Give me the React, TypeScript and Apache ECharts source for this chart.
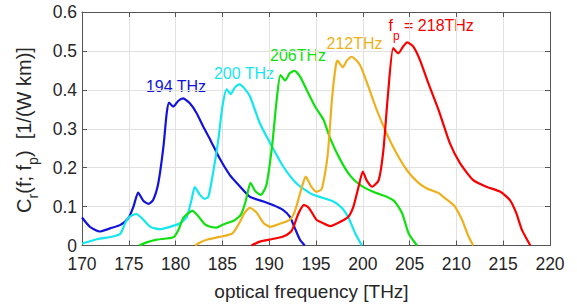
import React, { useEffect, useRef } from "react";
import * as echarts from "echarts";

// optical frequency [THz] vs C_r(f; f_p) [1/(W km)] for each pump frequency
const pump194: [number, number][] = [
  [170.0, 0.072], [170.85, 0.048], [171.9, 0.036], [173.0, 0.044], [174.1, 0.053],
  [174.95, 0.07], [175.5, 0.1], [176.0, 0.136], [176.55, 0.115], [177.1, 0.107],
  [177.6, 0.117], [178.15, 0.16], [178.7, 0.254], [179.05, 0.34], [179.3, 0.367],
  [179.75, 0.357], [180.3, 0.372], [180.8, 0.378], [181.5, 0.366], [182.25, 0.34],
  [182.96, 0.305], [183.7, 0.272], [184.7, 0.224], [185.8, 0.181], [186.9, 0.151],
  [187.95, 0.125], [189.4, 0.113], [190.4, 0.104], [191.5, 0.091], [192.2, 0.074],
  [192.75, 0.044], [193.3, 0.014], [193.8, 0.0],
];
const pump200: [number, number][] = [
  [170.0, 0.005], [171.6, 0.016], [173.3, 0.023], [174.1, 0.03], [174.6, 0.057],
  [175.1, 0.074], [175.8, 0.081], [176.4, 0.07], [177.3, 0.048], [178.3, 0.042],
  [179.4, 0.048], [180.5, 0.057], [181.2, 0.074], [181.7, 0.117], [182.05, 0.15],
  [182.6, 0.13], [183.1, 0.12], [183.5, 0.125], [184.0, 0.186], [184.56, 0.271],
  [185.0, 0.357], [185.46, 0.401], [185.9, 0.389], [186.3, 0.405], [186.8, 0.414],
  [187.3, 0.405], [187.95, 0.383], [189.0, 0.314], [190.1, 0.263], [191.5, 0.203],
  [192.9, 0.16], [194.4, 0.134], [195.1, 0.127], [196.85, 0.113], [197.8, 0.096],
  [198.5, 0.07], [199.2, 0.031], [199.9, 0.0],
];
const pump206: [number, number][] = [
  [176.1, 0.0], [176.9, 0.008], [178.0, 0.015], [179.75, 0.021], [180.3, 0.04],
  [180.8, 0.07], [181.4, 0.084], [181.8, 0.089], [182.4, 0.076], [183.1, 0.055],
  [183.7, 0.048], [184.3, 0.046], [185.1, 0.054], [186.3, 0.065], [187.0, 0.08],
  [187.5, 0.115], [188.0, 0.161], [188.5, 0.14], [189.1, 0.13], [189.7, 0.155],
  [190.3, 0.254], [190.8, 0.374], [191.2, 0.438], [191.7, 0.424], [192.2, 0.443],
  [192.7, 0.449], [193.3, 0.434], [194.0, 0.4], [194.9, 0.357], [195.8, 0.323],
  [196.5, 0.276], [197.6, 0.22], [198.6, 0.181], [199.7, 0.156], [201.1, 0.138],
  [202.55, 0.125], [203.4, 0.113], [204.2, 0.083], [204.9, 0.031], [205.8, 0.0],
];
const pump212: [number, number][] = [
  [182.1, 0.0], [182.6, 0.008], [183.5, 0.016], [184.7, 0.022], [186.0, 0.03],
  [186.5, 0.045], [186.9, 0.062], [187.4, 0.085], [187.95, 0.097], [188.4, 0.09],
  [188.7, 0.083], [189.4, 0.058], [190.1, 0.048], [191.15, 0.056], [192.2, 0.066],
  [192.6, 0.08], [192.9, 0.1], [193.5, 0.151], [193.9, 0.177], [194.5, 0.151],
  [195.05, 0.138], [195.6, 0.145], [196.0, 0.19], [196.3, 0.245], [196.7, 0.374],
  [197.1, 0.46], [197.3, 0.475], [197.85, 0.458], [198.3, 0.475], [198.8, 0.485],
  [199.7, 0.464], [200.6, 0.408], [201.5, 0.348], [202.55, 0.288], [203.6, 0.237],
  [204.7, 0.194], [205.8, 0.164], [206.8, 0.147], [208.1, 0.135], [208.6, 0.125],
  [209.4, 0.11], [209.85, 0.1], [210.6, 0.066], [211.3, 0.023], [211.8, 0.0],
];
const pump218: [number, number][] = [
  [188.1, 0.0], [189.0, 0.01], [190.0, 0.015], [191.5, 0.023], [192.3, 0.035],
  [192.6, 0.048], [193.0, 0.075], [193.3, 0.091], [193.7, 0.104], [194.1, 0.1],
  [194.4, 0.091], [195.05, 0.066], [195.7, 0.058], [196.5, 0.05], [197.6, 0.061],
  [198.45, 0.074], [199.0, 0.1], [199.55, 0.151], [200.0, 0.19], [200.4, 0.168],
  [201.0, 0.151], [201.7, 0.168], [202.2, 0.245], [202.7, 0.391], [203.25, 0.507],
  [203.8, 0.494], [204.3, 0.511], [204.75, 0.522], [205.4, 0.511], [206.1, 0.477],
  [207.0, 0.417], [208.1, 0.348], [209.3, 0.263], [210.4, 0.211], [211.8, 0.168],
  [213.2, 0.151], [214.7, 0.138], [215.7, 0.117], [216.4, 0.083], [217.0, 0.04],
  [217.9, 0.0],
];

const seriesNames = ["194 THz", "200 THz", "206THz", "212THz", "218THz"];
const seriesData = [pump194, pump200, pump206, pump212, pump218];
const seriesColors = ["#1212dc", "#14e6ee", "#10e010", "#edb120", "#f80000"];

const xMin = 170;
const xMax = 220;
const xStep = 5;
const yMin = 0;
const yMax = 0.6;
const yStep = 0.1;

const xTitle = "optical frequency [THz]";

const FONT = '"Liberation Sans", Arial, Helvetica, sans-serif';
const AXIS = "#555555";
const GRID = "#e1e1e1";
const TXT = "#262626";

export default function App() {
  const ref = useRef<HTMLDivElement>(null);

  useEffect(() => {
    if (!ref.current) return;
    const chart = echarts.init(ref.current, undefined, { renderer: "svg" });

    const axisCommon = {
      type: "value" as const,
      axisLine: { show: true, onZero: false, lineStyle: { color: AXIS, width: 1 } },
      axisTick: { show: true, inside: true, length: 5, lineStyle: { color: AXIS, width: 1 } },
    };

    const labelText = (text: string, x: number, y: number, color: string) => ({
      type: "text",
      x,
      y,
      silent: true,
      style: {
        text,
        fill: color,
        fontSize: 16,
        fontFamily: FONT,
        align: "center",
        verticalAlign: "middle",
        textAlign: "center",
        textVerticalAlign: "middle",
      },
    });

    const option: any = {
      animation: false,
      grid: { left: 82, right: 27, top: 12, bottom: 58.5, containLabel: false },
      xAxis: [
        {
          ...axisCommon,
          position: "bottom",
          min: xMin,
          max: xMax,
          interval: xStep,
          axisLabel: { color: TXT, fontSize: 17.5, fontFamily: FONT, margin: 9 },
          splitLine: { show: true, lineStyle: { color: GRID, width: 1 } },
        },
        {
          ...axisCommon,
          position: "top",
          min: xMin,
          max: xMax,
          interval: xStep,
          axisLabel: { show: false },
          splitLine: { show: false },
        },
      ],
      yAxis: [
        {
          ...axisCommon,
          position: "left",
          min: yMin,
          max: yMax,
          interval: yStep,
          axisLabel: { color: TXT, fontSize: 17.5, fontFamily: FONT, margin: 5 },
          splitLine: { show: true, lineStyle: { color: GRID, width: 1 } },
        },
        {
          ...axisCommon,
          position: "right",
          min: yMin,
          max: yMax,
          interval: yStep,
          axisLabel: { show: false },
          splitLine: { show: false },
        },
      ],
      series: seriesData.map((d, i) => ({
        name: seriesNames[i],
        type: "line",
        xAxisIndex: 0,
        yAxisIndex: 0,
        data: d,
        showSymbol: false,
        symbol: "none",
        smooth: 0.2,
        lineStyle: { color: seriesColors[i], width: 2.2 },
        itemStyle: { color: seriesColors[i] },
      })),
      graphic: [
        labelText("194 THz", 176, 86.5, seriesColors[0]),
        labelText("200 THz", 244, 73.2, seriesColors[1]),
        labelText("206THz", 298, 55.5, seriesColors[2]),
        labelText("212THz", 354.5, 43.8, seriesColors[3]),
        {
          type: "text",
          x: 388.5,
          y: 25.6,
          silent: true,
          style: {
            text: "{a|f}{s|p}{a| = 218THz}",
            fill: seriesColors[4],
            align: "left",
            verticalAlign: "middle",
            textAlign: "left",
            textVerticalAlign: "middle",
            fontSize: 16,
            fontFamily: FONT,
            rich: {
              a: { fontSize: 16, fontFamily: FONT, fill: seriesColors[4], color: seriesColors[4] },
              s: {
                fontSize: 12,
                fontFamily: FONT,
                fill: seriesColors[4],
                color: seriesColors[4],
                padding: [20, 0, 0, 0],
              },
            },
          },
        },
        {
          type: "text",
          x: 24,
          y: 130,
          rotation: Math.PI / 2,
          silent: true,
          style: {
            text: "{a|C}{s|r}{a|(f; f}{s|p}{a|)  [1/(W km)]}",
            fill: TXT,
            align: "center",
            verticalAlign: "middle",
            textAlign: "center",
            textVerticalAlign: "middle",
            fontSize: 20,
            fontFamily: FONT,
            rich: {
              a: { fontSize: 20, fontFamily: FONT, fill: TXT, color: TXT },
              s: {
                fontSize: 14,
                fontFamily: FONT,
                fill: TXT,
                color: TXT,
                padding: [17, 0, 0, 0],
              },
            },
          },
        },
        {
          type: "text",
          x: 311.5,
          y: 291.7,
          silent: true,
          style: {
            text: xTitle,
            fill: TXT,
            fontSize: 19,
            fontFamily: FONT,
            align: "center",
            verticalAlign: "middle",
            textAlign: "center",
            textVerticalAlign: "middle",
          },
        },
      ],
    };

    chart.setOption(option);
    return () => chart.dispose();
  }, []);

  return (
    <div
      ref={ref}
      style={{ position: "fixed", left: 0, top: 0, width: 577, height: 304, background: "#ffffff" }}
    />
  );
}
